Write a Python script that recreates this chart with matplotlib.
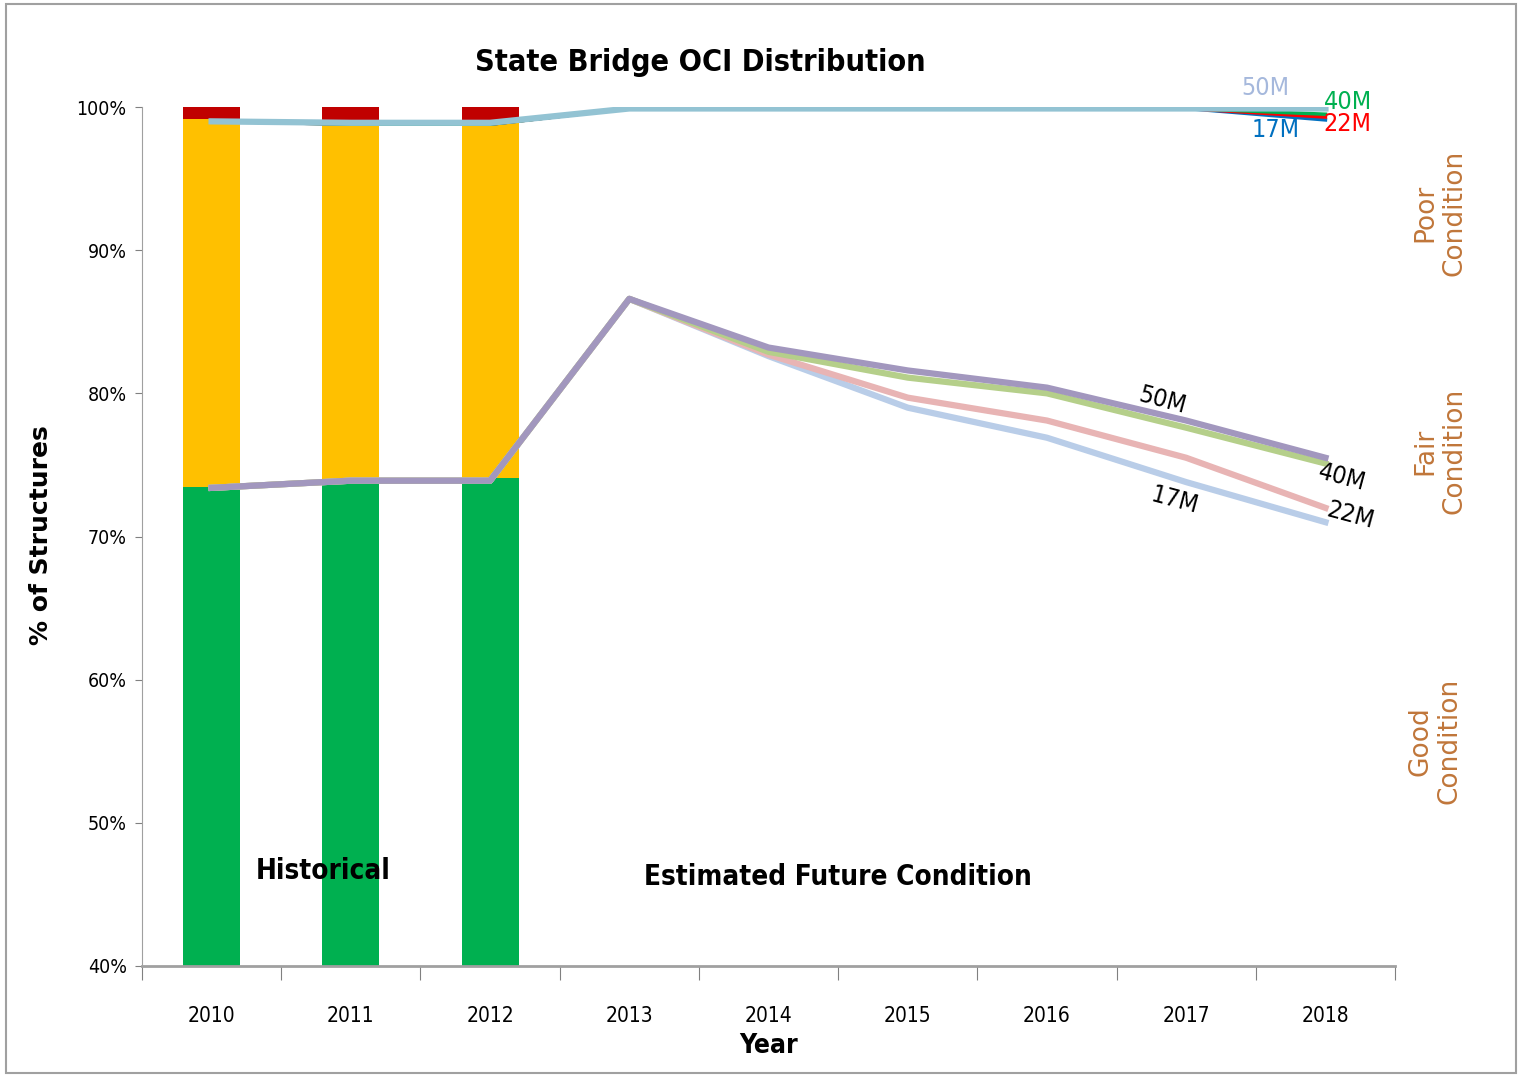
import matplotlib
matplotlib.use("Agg")
import matplotlib.pyplot as plt
from matplotlib.patches import Rectangle

# ---- data ----
years = ["2010", "2011", "2012", "2013", "2014", "2015", "2016", "2017", "2018"]
hist_years = ["2010", "2011", "2012"]
good_pct = [73.45, 73.9, 74.1]
fair_pct = [25.7, 25.1, 24.9]
poor_pct = [0.85, 1.0, 1.0]

# good condition share, by funding scenario
good_17m = [73.4, 73.9, 73.9, 86.6, 82.6, 79.0, 76.9, 73.8, 71.0]
good_22m = [73.4, 73.9, 73.9, 86.6, 82.7, 79.7, 78.1, 75.5, 72.0]
good_40m = [73.4, 73.9, 73.9, 86.6, 82.9, 81.1, 80.0, 77.6, 75.1]
good_50m = [73.4, 73.9, 73.9, 86.6, 83.2, 81.6, 80.4, 78.1, 75.5]

# good + fair share, by funding scenario
gf_17m = [99.0, 98.8, 98.8, 99.9, 99.9, 99.9, 99.9, 99.9, 99.1]
gf_22m = [99.0, 98.8, 98.8, 99.9, 99.9, 99.9, 99.9, 99.9, 99.3]
gf_40m = [99.0, 98.8, 98.8, 99.9, 99.9, 99.9, 99.9, 99.9, 99.5]
gf_50m = [99.0, 98.9, 98.9, 99.9, 99.9, 99.9, 99.9, 99.9, 99.9]

cnd = dict(family="DejaVu Sans", fontstretch="condensed")
fig = plt.figure(figsize=(15.22, 10.77), dpi=100)
ax = fig.add_axes([0.0933, 0.1031, 0.8233, 0.7975])

x = list(range(len(years)))
hx = list(range(len(hist_years)))
ax.bar(hx, good_pct, width=0.41, color="#00b050", zorder=1)
ax.bar(hx, fair_pct, width=0.41, bottom=good_pct, color="#ffc000", zorder=1)
bot2 = [g + f for g, f in zip(good_pct, fair_pct)]
ax.bar(hx, poor_pct, width=0.41, bottom=bot2, color="#c00000", zorder=1)

# lower set of lines
ax.plot(x, good_17m, color="#b9cde8", lw=4.5, zorder=3)
ax.plot(x, good_22m, color="#e8b4b4", lw=4.5, zorder=3)
ax.plot(x, good_40m, color="#b5cf8a", lw=4.5, zorder=3)
ax.plot(x, good_50m, color="#a297be", lw=4.5, zorder=4)

# upper set of lines
ax.plot(x, gf_17m, color="#0070c0", lw=2.5, zorder=3)
ax.plot(x, gf_22m, color="#ff0000", lw=2.5, zorder=3)
ax.plot(x, gf_40m, color="#00b050", lw=2.5, zorder=3)
ax.plot(x, gf_50m, color="#93c3d3", lw=4.5, zorder=4)

ax.set_xlim(-0.5, 8.5)
ax.set_ylim(40, 100)
yt = [40, 50, 60, 70, 80, 90, 100]
ax.set_yticks(yt)
ax.set_yticklabels([f"{v}%" for v in yt], fontsize=14, **cnd)
ax.set_xticks([i + 0.5 for i in range(-1, 9)])
ax.set_xticklabels([])
ax.set_xticks(x, minor=True)
ax.set_xticklabels(years, minor=True, fontsize=15, **cnd)
ax.tick_params(axis="x", which="major", length=10, color="#808080", direction="out")
ax.tick_params(axis="x", which="minor", length=0, pad=29)
ax.tick_params(axis="y", length=5, color="#808080", pad=6)
for s in ["top", "right"]:
    ax.spines[s].set_visible(False)
ax.spines["left"].set_color("#a0a0a0")
ax.spines["bottom"].set_color("#a0a0a0")
ax.spines["bottom"].set_linewidth(2)

fig.text(0.505, 0.0405, "Year", fontsize=19, fontweight="bold", ha="center", va="top", **cnd)
fig.text(0.027, 0.503, "% of Structures", rotation=90, fontsize=18, fontweight="bold",
         ha="center", va="center")
fig.text(0.46, 0.942, "State Bridge OCI Distribution", fontsize=22, fontweight="bold",
         ha="center", va="center", **cnd)
ax.text(0.8, 46.6, "Historical", fontsize=20, fontweight="bold", ha="center", va="center",
        zorder=5, **cnd)
ax.text(4.5, 46.2, "Estimated Future Condition", fontsize=20, fontweight="bold",
        ha="center", va="center", **cnd)

# scenario labels, upper
ax.text(7.57, 101.3, "50M", color="#a5b8dc", fontsize=18, ha="center", va="center",
        clip_on=False, **cnd)
ax.text(8.16, 100.35, "40M", color="#00b050", fontsize=18, ha="center", va="center",
        clip_on=False, **cnd)
ax.text(8.16, 98.8, "22M", color="#ff0000", fontsize=18, ha="center", va="center",
        clip_on=False, **cnd)
ax.text(7.64, 98.4, "17M", color="#0070c0", fontsize=18, ha="center", va="center",
        clip_on=False, **cnd)
# scenario labels, lower
ax.text(6.83, 79.5, "50M", fontsize=18, rotation=-15, ha="center", va="center", **cnd)
ax.text(8.12, 74.1, "40M", fontsize=18, rotation=-15, ha="center", va="center", **cnd)
ax.text(8.18, 71.5, "22M", fontsize=18, rotation=-15, ha="center", va="center", **cnd)
ax.text(6.92, 72.5, "17M", fontsize=18, rotation=-15, ha="center", va="center", **cnd)

# condition labels on the right
brown = "#c0763a"
fig.text(0.946, 0.802, "Poor\nCondition", rotation=90, color=brown, fontsize=19,
         ha="center", va="center", linespacing=1.15)
fig.text(0.946, 0.581, "Fair\nCondition", rotation=90, color=brown, fontsize=19,
         ha="center", va="center", linespacing=1.15)
fig.text(0.943, 0.312, "Good\nCondition", rotation=90, color=brown, fontsize=19,
         ha="center", va="center", linespacing=1.15)

fig.patches.append(Rectangle((0.004, 0.004), 0.992, 0.992, transform=fig.transFigure,
                             fill=False, edgecolor="#a0a0a0", lw=1.5))

fig.savefig("out.png", dpi=100)
